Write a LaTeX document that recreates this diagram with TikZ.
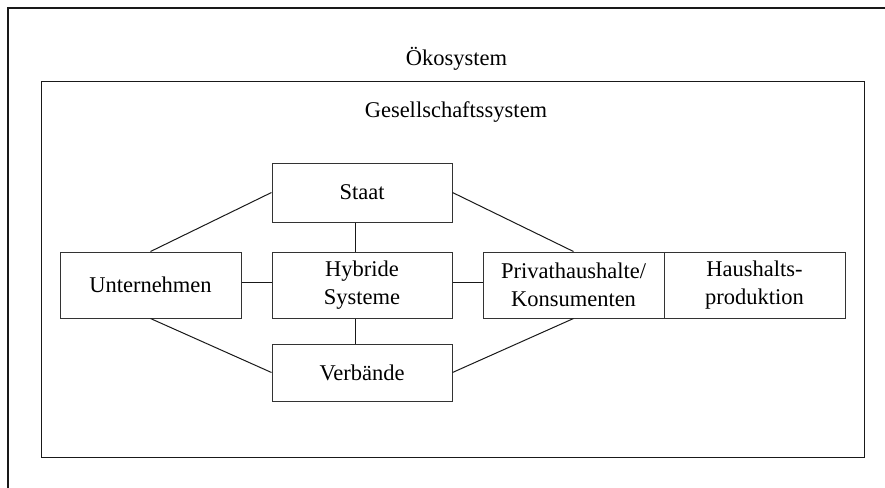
\documentclass[tikz,border=0pt]{standalone}
\usepackage{fontspec}
\setmainfont{Liberation Serif}
\begin{document}
\begin{tikzpicture}[x=0.5pt,y=-0.5pt,
  every node/.style={font=\fontsize{11.25}{14}\selectfont},
  box/.style={draw=black!80,line width=0.5pt,inner sep=0pt,align=center,minimum height=33pt},
  conn/.style={draw=black!90,line width=0.5pt}]
\useasboundingbox (0,0) rectangle (885,488);
% outer frame (only top and left edges visible)
\draw[line width=1pt,black!90] (890,8) -- (8,8) -- (8,495);
% inner box
\draw[line width=0.5pt,black!90] (41,81) rectangle (864,457);
\node[anchor=base] (oeko) at (456.5,65) {Ökosystem};
\node[anchor=base] (ges) at (456,117) {Gesellschaftssystem};
% boxes
\node[box,minimum width=90.5pt] (unt) at (150.5,285) {Unternehmen};
\node[box,minimum width=90pt] (hyb) at (362,285) {Hybride\\Systeme};
\node[box,minimum width=90.5pt] (priv) at (573.5,285) {Privathaushalte/\\Konsumenten};
\node[box,minimum width=90.5pt] (haus) at (754.5,285) {Haushalts-\\produktion};
\node[box,minimum width=90pt,minimum height=29.5pt] (staat) at (362,192.5) {Staat};
\node[box,minimum width=90pt,minimum height=28.5pt] (verb) at (362,372.5) {Verbände};
% connectors
\draw[conn] (unt.north) -- (staat.west);
\draw[conn] (staat.east) -- (priv.north);
\draw[conn] (unt.south) -- (verb.west);
\draw[conn] (verb.east) -- (priv.south);
\draw[conn] ([yshift=1.5pt]unt.east) -- ([yshift=1.5pt]hyb.west);
\draw[conn] ([yshift=1.5pt]hyb.east) -- ([yshift=1.5pt]priv.west);
\draw[conn] ([xshift=-3.5pt]staat.south) -- ([xshift=-3.5pt]hyb.north);
\draw[conn] ([xshift=-3.5pt]hyb.south) -- ([xshift=-3.5pt]verb.north);
\end{tikzpicture}
\end{document}
